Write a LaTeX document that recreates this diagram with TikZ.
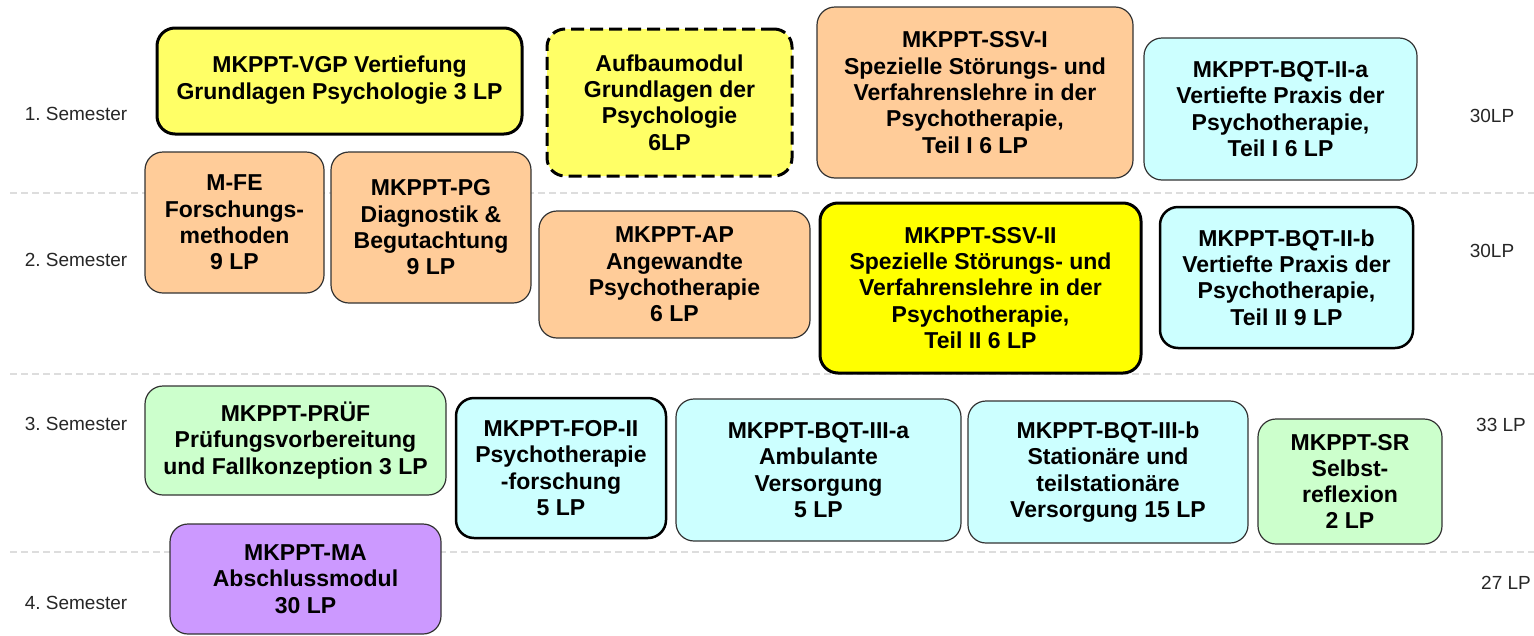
\documentclass[tikz,border=0pt]{standalone}
\usepackage{fontspec}
\setmainfont{Liberation Sans}
\frenchspacing
\definecolor{lyel}{HTML}{FFFF66}
\definecolor{byel}{HTML}{FFFF00}
\definecolor{peach}{HTML}{FFCC99}
\definecolor{lcyan}{HTML}{CCFFFF}
\definecolor{lgreen}{HTML}{CCFFCC}
\definecolor{lpurp}{HTML}{CC99FF}
\definecolor{sepgray}{HTML}{DDDDDD}
\definecolor{edge}{HTML}{333333}
\tikzset{
  mod/.style={rectangle, rounded corners=18pt, align=center, inner sep=0pt,
    font=\bfseries\fontsize{23}{26.3}\selectfont, text=black},
  thinedge/.style={draw=edge, line width=1.2pt},
  heavyedge/.style={draw=black, line width=3pt},
  dashedge/.style={draw=black, line width=3pt, dash pattern=on 13pt off 6pt},
  semlabel/.style={font=\fontsize{19}{22}\selectfont, text=black!85, inner sep=0pt},
  seprule/.style={draw=sepgray, line width=1.5pt, dash pattern=on 7pt off 4pt},
}
\begin{document}
\begin{tikzpicture}[x=1pt,y=-1pt]
\useasboundingbox (0,0) rectangle (1534,635);
% separators
\coordinate (s1a) at (10,193); \coordinate (s1b) at (1534,193);
\coordinate (s2a) at (10,374); \coordinate (s2b) at (1534,374);
\coordinate (s3a) at (10,552); \coordinate (s3b) at (1534,552);
\draw[seprule] (s1a) -- (s1b);
\draw[seprule] (s2a) -- (s2b);
\draw[seprule] (s3a) -- (s3b);
% semester labels
\node[semlabel] (sem1) at (76,114) {1. Semester};
\node[semlabel] (sem2) at (76,260) {2. Semester};
\node[semlabel] (sem3) at (76,424) {3. Semester};
\node[semlabel] (sem4) at (76,603) {4. Semester};
\node[semlabel] (lp1) at (1492,116) {30LP};
\node[semlabel] (lp2) at (1492,251) {30LP};
\node[semlabel] (lp3) at (1501,425) {33 LP};
\node[semlabel] (lp4) at (1506,583) {27 LP};
% semester 1
\node[mod, heavyedge, fill=lyel, minimum width=365pt, minimum height=106pt] (vgp) at (339.5,81)
  {\raisebox{-3pt}{\begin{tabular}{@{}c@{}}MKPPT-VGP Vertiefung\\[0.3pt]Grundlagen Psychologie 3 LP\end{tabular}}};
\node[mod, dashedge, fill=lyel, minimum width=245pt, minimum height=147pt] (aufbau) at (669.5,102.5)
  {Aufbaumodul\\Grundlagen der\\Psychologie\\6LP};
\node[mod, thinedge, fill=peach, minimum width=316pt, minimum height=171pt] (ssv1) at (975,92.5)
  {MKPPT-SSV-I\\Spezielle Störungs- und\\Verfahrenslehre in der\\Psychotherapie,\\Teil I 6 LP};
\node[mod, thinedge, fill=lcyan, minimum width=273pt, minimum height=142pt] (bqt2a) at (1280.5,109)
  {MKPPT-BQT-II-a\\Vertiefte Praxis der\\Psychotherapie,\\Teil I 6 LP};
% semester 2
\node[mod, thinedge, fill=peach, minimum width=179pt, minimum height=141pt] (mfe) at (234.5,222.5)
  {M-FE\\Forschungs-\\methoden\\9 LP};
\node[mod, thinedge, fill=peach, minimum width=200pt, minimum height=151pt] (pg) at (431,227.5)
  {MKPPT-PG\\Diagnostik \&\\Begutachtung\\9 LP};
\node[mod, thinedge, fill=peach, minimum width=271pt, minimum height=127pt] (ap) at (674.5,274.5)
  {MKPPT-AP\\Angewandte\\Psychotherapie\\6 LP};
\node[mod, heavyedge, fill=byel, minimum width=321pt, minimum height=170pt] (ssv2) at (980.5,288)
  {MKPPT-SSV-II\\Spezielle Störungs- und\\Verfahrenslehre in der\\Psychotherapie,\\Teil II 6 LP};
\node[mod, draw=black, line width=2.5pt, fill=lcyan, minimum width=253pt, minimum height=141pt] (bqt2b) at (1286.5,277.5)
  {MKPPT-BQT-II-b\\Vertiefte Praxis der\\Psychotherapie,\\Teil II 9 LP};
% semester 3
\node[mod, thinedge, fill=lgreen, minimum width=301pt, minimum height=109pt] (pruef) at (295.5,440.5)
  {MKPPT-PRÜF\\Prüfungsvorbereitung\\und Fallkonzeption 3 LP};
\node[mod, draw=black, line width=2.5pt, fill=lcyan, minimum width=210pt, minimum height=140pt] (fop2) at (561,468)
  {MKPPT-FOP-II\\Psychotherapie\\-forschung\\5 LP};
\node[mod, thinedge, fill=lcyan, minimum width=285pt, minimum height=142pt] (bqt3a) at (818.5,470)
  {MKPPT-BQT-III-a\\Ambulante\\Versorgung\\5 LP};
\node[mod, thinedge, fill=lcyan, minimum width=280pt, minimum height=142pt] (bqt3b) at (1108,472)
  {MKPPT-BQT-III-b\\Stationäre und\\teilstationäre\\Versorgung 15 LP};
\node[mod, thinedge, fill=lgreen, minimum width=184pt, minimum height=125pt] (sr) at (1350,481.5)
  {MKPPT-SR\\Selbst-\\reflexion\\2 LP};
% semester 4
\node[mod, thinedge, fill=lpurp, minimum width=271pt, minimum height=110pt] (ma) at (305.5,579)
  {MKPPT-MA\\Abschlussmodul\\30 LP};
\end{tikzpicture}
\end{document}
